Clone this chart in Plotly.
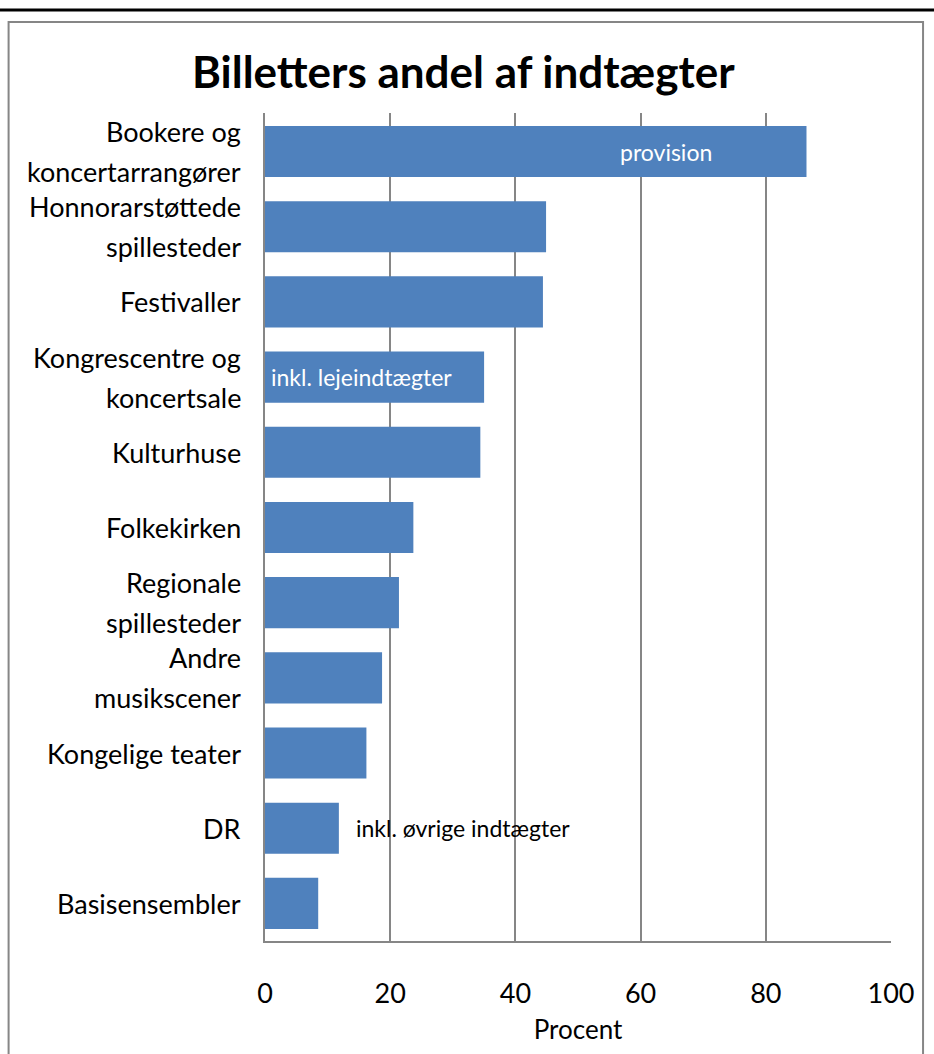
import plotly.graph_objects as go

categories = ["Bookere og koncertarrangører", "Honnorarstøttede spillesteder", "Festivaller",
              "Kongrescentre og koncertsale", "Kulturhuse", "Folkekirken", "Regionale spillesteder",
              "Andre musikscener", "Kongelige teater", "DR", "Basisensembler"]
label_lines = [["Bookere og", "koncertarrangører"], ["Honnorarstøttede", "spillesteder"], ["Festivaller"],
               ["Kongrescentre og", "koncertsale"], ["Kulturhuse"], ["Folkekirken"], ["Regionale", "spillesteder"],
               ["Andre", "musikscener"], ["Kongelige teater"], ["DR"], ["Basisensembler"]]
values = [86.5, 44.9, 44.4, 35.0, 34.4, 23.7, 21.4, 18.7, 16.2, 11.8, 8.5]
tick_vals = [0, 20, 40, 60, 80, 100]

FONT = "Lato"
fig = go.Figure(go.Bar(
    y=categories, x=values, orientation="h",
    marker=dict(color="#4F81BD", line=dict(width=0)),
    hoverinfo="skip",
))

annotations = []
for cat, lines in zip(categories, label_lines):
    n = len(lines)
    for i, line in enumerate(lines):
        shift = (n - 1) / 2 * 40 - i * 40
        annotations.append(dict(
            x=0, xref="paper", y=cat, yref="y", xanchor="right", yanchor="middle",
            xshift=-22, yshift=shift, text=line, showarrow=False,
            font=dict(family=FONT, size=27, color="black"), align="right"))

annotations += [
    dict(x=64, y=categories[0], xref="x", yref="y", text="provision", showarrow=False,
         xanchor="center", font=dict(family=FONT, size=23, color="white")),
    dict(x=0.6, y=categories[3], xref="x", yref="y", text="inkl. lejeindtægter", showarrow=False,
         xanchor="left", font=dict(family=FONT, size=23, color="white")),
    dict(x=14.2, y=categories[9], xref="x", yref="y", text="inkl. øvrige indtægter", showarrow=False,
         xanchor="left", font=dict(family=FONT, size=23, color="black")),
]

shapes = [
    # outer chart border
    dict(type="rect", xref="paper", yref="paper", x0=-0.4096, x1=1.0512, y0=-0.2, y1=1.1099,
         line=dict(color="#868686", width=2), fillcolor="rgba(0,0,0,0)", layer="below"),
    # black line at top
    dict(type="line", xref="paper", yref="paper", x0=-0.45, x1=1.1, y0=1.1244, y1=1.1244,
         line=dict(color="black", width=3)),
]

fig.update_layout(
    width=934, height=1054,
    margin=dict(l=265, r=43, t=113, b=113),
    paper_bgcolor="white", plot_bgcolor="white",
    title=dict(text="<b>Billetters andel af indtægter</b>", x=0.496, xanchor="center",
               y=1 - 73 / 1054, yanchor="middle",
               font=dict(family=FONT, size=44, color="black")),
    bargap=0.32,
    showlegend=False,
    annotations=annotations,
    shapes=shapes,
    font=dict(family=FONT, color="black"),
)
fig.update_xaxes(
    range=[0, 100], tickvals=tick_vals, ticktext=[str(v) for v in tick_vals],
    showgrid=True, gridcolor="#868686", gridwidth=2,
    showline=True, linecolor="#868686", linewidth=2,
    zeroline=False, ticks="", ticklabelstandoff=28,
    tickfont=dict(family=FONT, size=27, color="black"),
    title=dict(text="Procent", font=dict(family=FONT, size=26, color="black"), standoff=12),
    fixedrange=True,
)
fig.update_yaxes(
    categoryorder="array", categoryarray=categories, autorange="reversed",
    showticklabels=False, showgrid=False,
    showline=True, linecolor="#868686", linewidth=2, ticks="",
    fixedrange=True,
)
fig.write_html("out.html", config={"displayModeBar": False},
               post_script="document.body.style.margin='0px';document.body.style.overflow='hidden';")
